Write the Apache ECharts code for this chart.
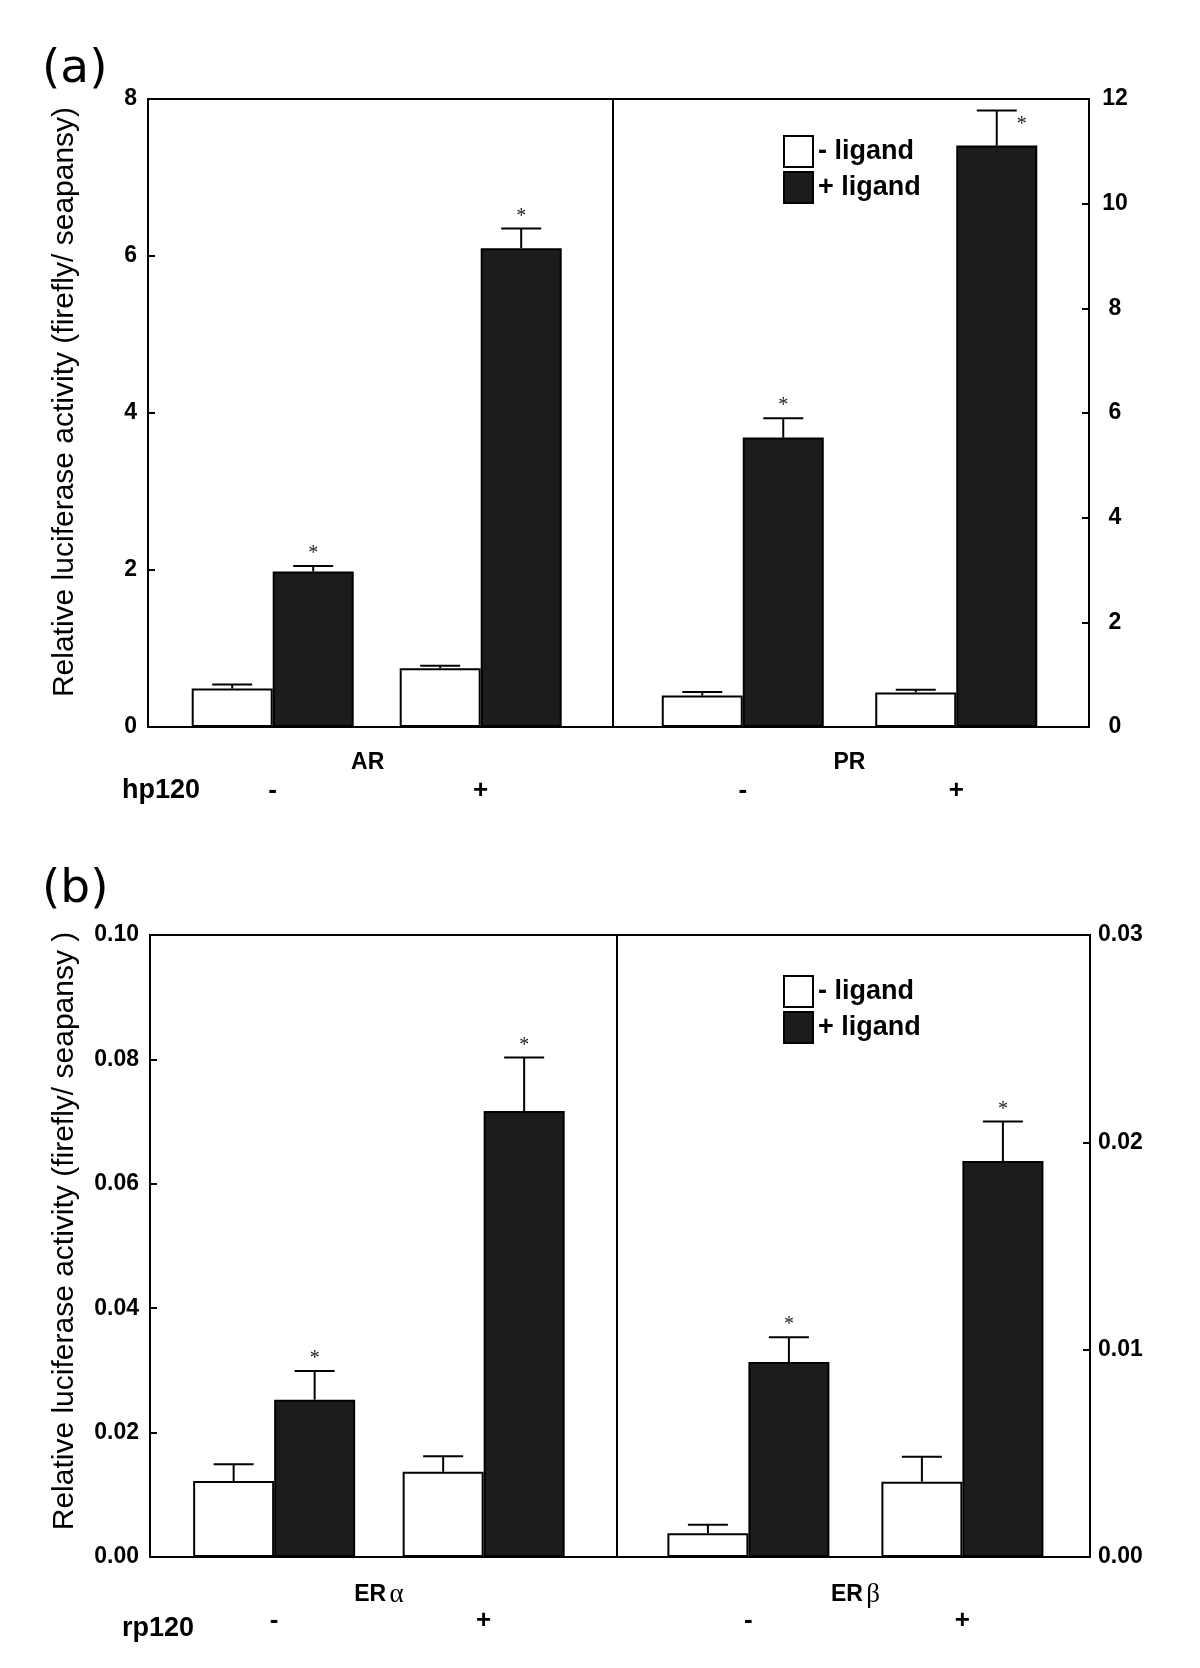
<!DOCTYPE html>
<html>
<head>
<meta charset="utf-8">
<title>Luciferase activity</title>
<script src="https://cdn.jsdelivr.net/npm/echarts@6/dist/echarts.min.js"></script>
<style>
  html, body { margin: 0; padding: 0; background: #fff; }
  #main { width: 1200px; height: 1668px; }
</style>
</head>
<body>
<div id="main"></div>
<script>
// hp120 / rp120 absent (-) or present (+)
var groups = ['-', '+'];
var panelNames = ['AR', 'PR', 'ER α', 'ER β'];

// means and SE
var arMinus = [0.49, 0.75];
var arPlus = [1.98, 6.10];
var arMinusErr = [0.05, 0.03];
var arPlusErr = [0.07, 0.25];

var prMinus = [0.60, 0.66];
var prPlus = [5.53, 11.11];
var prMinusErr = [0.07, 0.05];
var prPlusErr = [0.37, 0.67];

var eraMinus = [0.0122, 0.0137];
var eraPlus = [0.0253, 0.0717];
var eraMinusErr = [0.0027, 0.0025];
var eraPlusErr = [0.0046, 0.0086];

var erbMinus = [0.00115, 0.00363];
var erbPlus = [0.0094, 0.0191];
var erbMinusErr = [0.0004, 0.0012];
var erbPlusErr = [0.0012, 0.0019];

// * marks
var minusSig = [0, 0];
var plusSig = [1, 1];

// axis ranges
var yMax = [8, 12, 0.10, 0.03];
var yStep = [2, 2, 0.02, 0.01];
var yDigits = [0, 0, 2, 2];

var minusVals = [arMinus, prMinus, eraMinus, erbMinus];
var plusVals = [arPlus, prPlus, eraPlus, erbPlus];
var minusErrs = [arMinusErr, prMinusErr, eraMinusErr, erbMinusErr];
var plusErrs = [arPlusErr, prPlusErr, eraPlusErr, erbPlusErr];

var FONT = 'Liberation Sans, Arial, sans-serif';
var BAR_W = 81;

// frame of each panel and the inner area where the two groups sit
var frames = [
    {left: 148, top: 99, width: 465, height: 628},
    {left: 613, top: 99, width: 476, height: 628},
    {left: 150, top: 935, width: 467, height: 622},
    {left: 617, top: 935, width: 473, height: 622}
];
var innerBox = [
    {left: 168.7, width: 416},
    {left: 636, width: 427},
    {left: 169.4, width: 419},
    {left: 641.4, width: 428}
];
// small nudges of the group names (AR sits a little left of centre)
var namePad = [[0, 18, 0, 0], 0, 0, 0];

var myChart = echarts.init(document.getElementById('main'));

function errRenderer(side) {
    return function (params, api) {
        var idx = api.value(0), v = api.value(1), e = api.value(2), s = api.value(3);
        var top = api.coord([idx, v]);
        var cap = api.coord([idx, v + e]);
        var x = top[0] + side * BAR_W / 2;
        var kids = [
            {type: 'line', shape: {x1: x, y1: top[1], x2: x, y2: cap[1]}, style: {stroke: '#000', lineWidth: 2}},
            {type: 'line', shape: {x1: x - 20, y1: cap[1], x2: x + 20, y2: cap[1]}, style: {stroke: '#000', lineWidth: 2}}
        ];
        if (s) {
            var ax = x, ay = cap[1] - 12;
            // no room above the cap: put the star beside it
            if (ay - 10 < params.coordSys.y) { ax = x + 25; ay = cap[1] + 14; }
            kids.push({type: 'text', x: ax, y: ay,
                style: {text: '*', fill: '#222', fontSize: 20, fontFamily: 'Liberation Serif', align: 'center', verticalAlign: 'middle'}});
        }
        return {type: 'group', children: kids};
    };
}

var grids = [], xAxes = [], yAxes = [], series = [];

for (var p = 0; p < 4; p++) {
    var f = frames[p];
    var isLeft = (p % 2 === 0);
    var isTop = p < 2;
    grids.push({left: f.left, top: f.top, width: f.width, height: f.height, outerBoundsMode: 'none',
        show: true, borderColor: '#000', borderWidth: 2, backgroundColor: 'transparent'});
    xAxes.push({type: 'category', gridIndex: p, data: [''], show: false});
    var dig = yDigits[p];
    var rightLabel = isTop ? {align: 'center', margin: 26} : {align: 'left', margin: 8};
    yAxes.push({
        type: 'value', gridIndex: p, min: 0, max: yMax[p], interval: yStep[p],
        position: isLeft ? 'left' : 'right',
        name: isLeft ? (isTop ? 'Relative luciferase activity (firefly/ seapansy)' : 'Relative luciferase activity (firefly/ seapansy )') : '',
        nameLocation: 'middle',
        nameGap: isTop ? 68 : 70,
        nameMoveOverlap: false,
        nameTextStyle: {fontFamily: FONT, fontSize: 30, color: '#000', padding: [0, 0, 0, isTop ? 22 : 30]},
        axisLine: {show: false},
        axisTick: {show: true, inside: true, length: 7, lineStyle: {color: '#000', width: 2}},
        splitLine: {show: false},
        axisLabel: Object.assign({
            fontFamily: FONT, fontSize: 23, fontWeight: 'bold', color: '#000',
            formatter: (function (d) { return function (v) { return v.toFixed(d); }; })(dig)
        }, isLeft ? {margin: 11} : rightLabel)
    });
}

for (var q = 0; q < 4; q++) {
    var fr = frames[q];
    var ib = innerBox[q];
    var gi = 4 + q;
    var top = q < 2;
    grids.push({left: ib.left, top: fr.top, width: ib.width, height: fr.height, outerBoundsMode: 'none'});
    var nm = panelNames[q];
    var parts = nm.split(' ');
    xAxes.push({
        type: 'category', gridIndex: gi, data: groups,
        axisLine: {show: false}, axisTick: {show: false},
        axisLabel: top
            ? {fontFamily: FONT, fontSize: 26, fontWeight: 'bold', color: '#000', margin: 51}
            : {fontFamily: FONT, fontSize: 26, fontWeight: 'bold', color: '#000', margin: 70, verticalAlign: 'middle'},
        name: parts.length > 1 ? '{b|' + parts[0] + '} {g|' + parts[1] + '}' : '{b|' + nm + '}',
        nameLocation: 'middle',
        nameGap: top ? 24 : 40,
        nameMoveOverlap: false,
        nameTextStyle: {
            padding: namePad[q],
            rich: {
                b: {fontFamily: FONT, fontSize: 23, fontWeight: 'bold', color: '#000'},
                g: {fontFamily: 'Liberation Serif', fontSize: 27, color: '#000'}
            }
        }
    });
    yAxes.push({type: 'value', gridIndex: gi, min: 0, max: yMax[q], interval: yStep[q], show: false});

    series.push({
        name: '- ligand', type: 'bar', xAxisIndex: gi, yAxisIndex: gi,
        barWidth: BAR_W, barGap: '0%',
        itemStyle: {color: '#fff', borderColor: '#000', borderWidth: 2},
        data: minusVals[q]
    });
    series.push({
        name: '+ ligand', type: 'bar', xAxisIndex: gi, yAxisIndex: gi,
        barWidth: BAR_W, barGap: '0%',
        itemStyle: {color: '#1c1c1c', borderColor: '#000', borderWidth: 2},
        data: plusVals[q]
    });
    series.push({
        type: 'custom', xAxisIndex: gi, yAxisIndex: gi, z: 5, clip: false,
        renderItem: errRenderer(-1),
        data: groups.map(function (g, i) { return [i, minusVals[q][i], minusErrs[q][i], minusSig[i]]; })
    });
    series.push({
        type: 'custom', xAxisIndex: gi, yAxisIndex: gi, z: 5, clip: false,
        renderItem: errRenderer(1),
        data: groups.map(function (g, i) { return [i, plusVals[q][i], plusErrs[q][i], plusSig[i]]; })
    });
}

var legendBase = {
    data: ['- ligand', '+ ligand'], orient: 'vertical', left: 783,
    itemWidth: 29, itemHeight: 31, itemGap: 3, padding: 0, icon: 'rect',
    selectedMode: false,
    textStyle: {fontFamily: FONT, fontSize: 27, fontWeight: 'bold', color: '#000'}
};

var titleFont = {fontFamily: 'DejaVu Sans', fontSize: 47, fontWeight: 'normal', color: '#000'};
var rowFont = {fontFamily: FONT, fontSize: 27, fontWeight: 'bold', color: '#000'};

var option = {
    animation: false,
    backgroundColor: '#fff',
    title: [
        {text: '(a)', left: 42, top: 46, padding: 0, textStyle: titleFont},
        {text: '(b)', left: 42, top: 866, padding: 0, textStyle: titleFont},
        {text: 'hp120', left: 122, top: 777, padding: 0, textStyle: rowFont},
        {text: 'rp120', left: 122, top: 1615, padding: 0, textStyle: rowFont}
    ],
    legend: [
        Object.assign({}, legendBase, {top: 135}),
        Object.assign({}, legendBase, {top: 975})
    ],
    grid: grids,
    xAxis: xAxes,
    yAxis: yAxes,
    series: series
};

myChart.setOption(option);
</script>
</body>
</html>
